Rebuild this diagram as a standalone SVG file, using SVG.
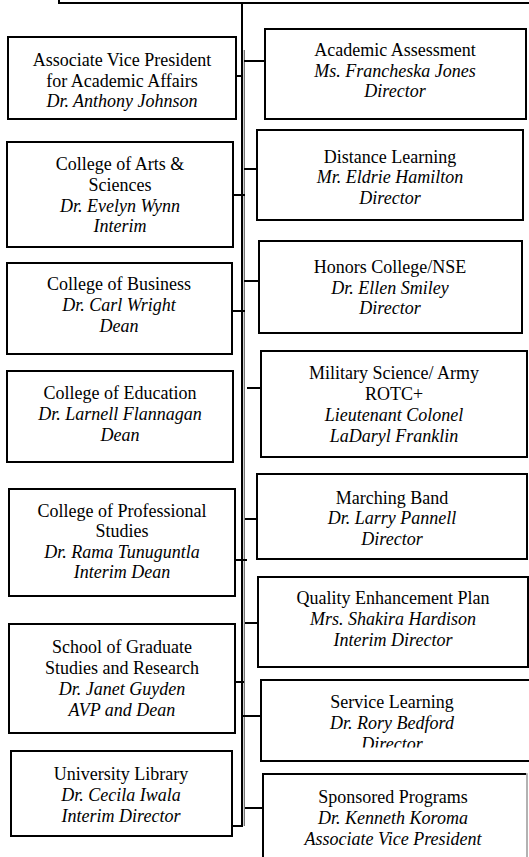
<svg xmlns="http://www.w3.org/2000/svg" width="529" height="857" viewBox="0 0 529 857">
<defs>
<style>
.box{fill:#fff;stroke:#000;stroke-width:2}
.ln{stroke:#000;stroke-width:2;fill:none}
text{font-family:"Liberation Serif","Times New Roman",serif;font-size:18px;fill:#000;text-anchor:middle}
.i{font-style:italic}
</style>
<clipPath id="clipSL"><rect x="262" y="681" width="270" height="66.5"/></clipPath>
</defs>
<rect width="529" height="857" fill="#fff"/>
<g id="connectors">
<polyline class="ln" points="59,0 59,3 531,3"/>
<line class="ln" x1="242" y1="3" x2="242" y2="827"/>
<line stroke="#666" stroke-width="1.2" x1="244.3" y1="50" x2="244.3" y2="826"/>
<line class="ln" x1="236" y1="76" x2="242" y2="76"/>
<line class="ln" x1="233" y1="195" x2="245" y2="195"/>
<line class="ln" x1="232" y1="311" x2="245" y2="311"/>
<line class="ln" x1="235" y1="560" x2="247" y2="560"/>
<line class="ln" x1="235" y1="682" x2="244" y2="682"/>
<polyline class="ln" points="232,826 243,826"/>
<line class="ln" x1="244" y1="61" x2="265" y2="61"/>
<line class="ln" x1="244" y1="169" x2="257" y2="169"/>
<line class="ln" x1="244" y1="281" x2="259" y2="281"/>
<line class="ln" x1="247" y1="388" x2="261" y2="388"/>
<line class="ln" x1="245" y1="519" x2="257" y2="519"/>
<line class="ln" x1="245" y1="623" x2="258" y2="623"/>
<line class="ln" x1="242" y1="716" x2="261" y2="716"/>
<line class="ln" x1="245" y1="808" x2="263" y2="808"/>
</g>
<g id="avp">
<rect class="box" x="8" y="37" width="228" height="82"/>
<text x="122" y="66">Associate Vice President</text>
<text x="122" y="86.5">for Academic Affairs</text>
<text x="122" y="107" class="i">Dr. Anthony Johnson</text>
</g>
<g id="arts">
<rect class="box" x="7" y="142" width="226" height="105"/>
<text x="120" y="170">College of Arts &amp;</text>
<text x="120" y="191">Sciences</text>
<text x="120" y="211.5" class="i">Dr. Evelyn Wynn</text>
<text x="120" y="232" class="i">Interim</text>
</g>
<g id="business">
<rect class="box" x="7" y="263" width="225" height="91"/>
<text x="119" y="290">College of Business</text>
<text x="119" y="311" class="i">Dr. Carl Wright</text>
<text x="119" y="331.5" class="i">Dean</text>
</g>
<g id="education">
<rect class="box" x="7" y="371" width="226" height="91"/>
<text x="120" y="398.5">College of Education</text>
<text x="120" y="419.5" class="i">Dr. Larnell Flannagan</text>
<text x="120" y="440.5" class="i">Dean</text>
</g>
<g id="professional">
<rect class="box" x="9" y="489" width="226" height="107"/>
<text x="122" y="516.5">College of Professional</text>
<text x="122" y="537">Studies</text>
<text x="122" y="557.5" class="i">Dr. Rama Tunuguntla</text>
<text x="122" y="577.5" class="i">Interim Dean</text>
</g>
<g id="graduate">
<rect class="box" x="9" y="624" width="226" height="109"/>
<text x="122" y="652.5">School of Graduate</text>
<text x="122" y="673.5">Studies and Research</text>
<text x="122" y="694.5" class="i">Dr. Janet Guyden</text>
<text x="122" y="715.5" class="i">AVP and Dean</text>
</g>
<g id="library">
<rect class="box" x="11" y="751" width="221" height="85"/>
<text x="121" y="779.5">University Library</text>
<text x="121" y="800.5" class="i">Dr. Cecila Iwala</text>
<text x="121" y="821.5" class="i">Interim Director</text>
</g>
<g id="assessment">
<rect class="box" x="265" y="29" width="261" height="90"/>
<text x="395" y="56">Academic Assessment</text>
<text x="395" y="76.5" class="i">Ms. Francheska Jones</text>
<text x="395" y="97" class="i">Director</text>
</g>
<g id="distance">
<rect class="box" x="257" y="130" width="266" height="90"/>
<text x="390" y="162.5">Distance Learning</text>
<text x="390" y="183" class="i">Mr. Eldrie Hamilton</text>
<text x="390" y="203.5" class="i">Director</text>
</g>
<g id="honors">
<rect class="box" x="259" y="241" width="263" height="92"/>
<text x="390" y="273">Honors College/NSE</text>
<text x="390" y="293.5" class="i">Dr. Ellen Smiley</text>
<text x="390" y="314" class="i">Director</text>
</g>
<g id="military">
<rect class="box" x="261" y="351" width="266" height="106"/>
<text x="394" y="378.5">Military Science/ Army</text>
<text x="394" y="399.5">ROTC+</text>
<text x="394" y="420.5" class="i">Lieutenant Colonel</text>
<text x="394" y="441.5" class="i">LaDaryl Franklin</text>
</g>
<g id="marching">
<rect class="box" x="257" y="474" width="270" height="85"/>
<text x="392" y="503.5">Marching Band</text>
<text x="392" y="524" class="i">Dr. Larry Pannell</text>
<text x="392" y="544.5" class="i">Director</text>
</g>
<g id="qep">
<rect class="box" x="258" y="577" width="270" height="90"/>
<text x="393" y="604">Quality Enhancement Plan</text>
<text x="393" y="625" class="i">Mrs. Shakira Hardison</text>
<text x="393" y="646" class="i">Interim Director</text>
</g>
<g id="service">
<rect class="box" x="261" y="680" width="272" height="81"/>
<g clip-path="url(#clipSL)">
<text x="392" y="707.5">Service Learning</text>
<text x="392" y="728.5" class="i">Dr. Rory Bedford</text>
<text x="392" y="749.5" class="i">Director</text>
</g>
</g>
<g id="sponsored">
<rect x="263" y="774" width="264" height="100" fill="#fff" stroke="#999" stroke-width="1.5"/>
<path class="ln" d="M263,874 V774 H526"/>
<text x="393" y="802.5">Sponsored Programs</text>
<text x="393" y="823.5" class="i">Dr. Kenneth Koroma</text>
<text x="393" y="844.5" class="i">Associate Vice President</text>
</g>
</svg>
